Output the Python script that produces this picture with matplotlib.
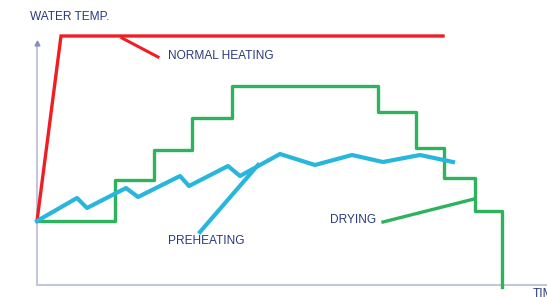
import matplotlib.pyplot as plt
import numpy as np

# values (arbitrary time / temperature units)
red_x = [0, 24, 406]
red_y = [64, 249, 249]

green_x = [0, 78, 117, 155, 195, 341, 379, 407, 438, 465]
green_y = [64, 105, 135, 167, 199, 173, 137, 107, 74, -2]

blue_x = [0, 40, 50, 89, 101, 143, 152, 191, 203, 243, 278, 315, 346, 383, 416]
blue_y = [64, 87, 77, 97, 88, 109, 99, 119, 109, 131, 120, 130, 123, 130, 123]

navy = '#2b3a80'
axis_col = '#c3c7dc'

fig = plt.figure(figsize=(5.47, 2.97), dpi=100)
ax = fig.add_axes([0, 0, 1, 1])
ax.set_xlim(-37, 510)
ax.set_ylim(-12, 285)
ax.axis('off')

# axes
ax.plot([0, 0], [0, 241], color=axis_col, lw=1.5, solid_capstyle='butt')
ax.plot([0, 510], [0, 0], color=axis_col, lw=1.5)
ax.plot([0], [242], marker='^', color='#8890c0', markersize=3.5)

# curves
ax.plot(red_x, red_y, color='#f01e23', lw=2.4, solid_joinstyle='miter')
ax.plot(green_x, green_y, color='#2db35c', lw=2.4, drawstyle='steps-post')
ax.plot(blue_x, blue_y, color='#29b6dd', lw=3.0)

# leader lines
ax.plot([85, 121], [247, 228], color='#f01e23', lw=2.2)
ax.plot([163, 221], [53, 120], color='#29b6dd', lw=3.0)
ax.plot([346, 437], [63, 86], color='#2db35c', lw=2.4)

# labels
fs = 8.6
ax.text(-7, 268, 'WATER TEMP.', color=navy, fontsize=fs, va='center', family='Liberation Sans')
ax.text(131, 229, 'NORMAL HEATING', color=navy, fontsize=fs, va='center', family='Liberation Sans')
ax.text(131, 44, 'PREHEATING', color=navy, fontsize=fs, va='center', family='Liberation Sans')
ax.text(293, 65, 'DRYING', color=navy, fontsize=fs, va='center', family='Liberation Sans')
ax.text(496, -9, 'TIME', color=navy, fontsize=fs, va='center', family='Liberation Sans')

fig.savefig('out.png', dpi=100)
